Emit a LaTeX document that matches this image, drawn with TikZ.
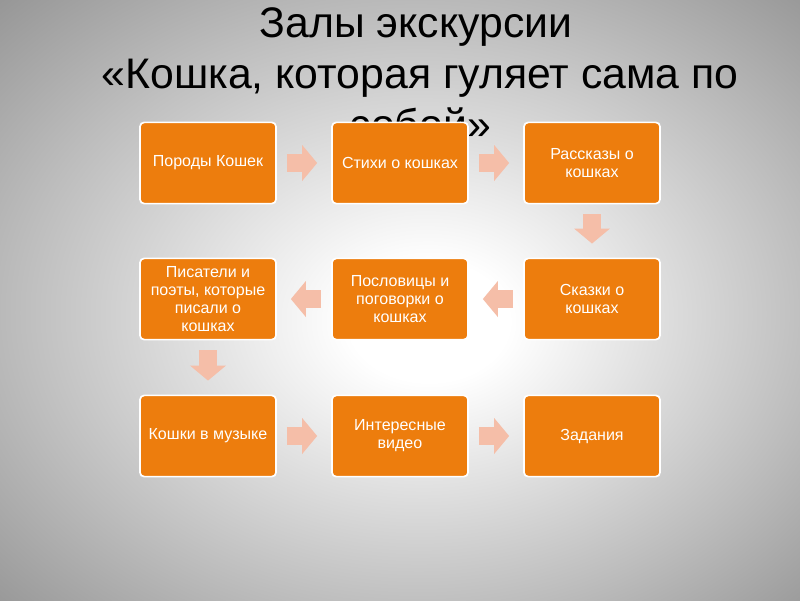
\documentclass[tikz,border=0pt]{standalone}
\usepackage{fontspec}
\setmainfont{Liberation Sans}
\usetikzlibrary{arrows.meta, calc}

\definecolor{hallorange}{RGB}{237,125,13}
\definecolor{routepeach}{RGB}{245,190,168}
\pgfdeclareradialshading{slidebg}{\pgfpoint{2bp}{-2bp}}{color(0bp)=(white); color(5bp)=(white); color(25bp)=(gray!52); color(37bp)=(gray!84); color(50bp)=(gray!84)}

\tikzset{
  hall/.style={draw=white, line width=1.2pt, rounded corners=3pt, fill=hallorange, text=white,
    minimum width=3.4cm, minimum height=2.03cm, inner sep=2pt, align=center,
    font=\fontsize{11.4}{12.8}\selectfont},
  route/.style={routepeach, line width=0.45cm, shorten <=0.25cm, shorten >=0.35cm,
    -{Triangle[length=0.375cm, width=0.9cm, line width=0pt]}},
  heading/.style={anchor=base, inner sep=0pt, font=\fontsize{30.4}{36}\selectfont}
}

\begin{document}
\begin{tikzpicture}[x=0.025cm, y=-0.025cm]
% slide background
\shade[shading=slidebg] (0,0) rectangle (800,600);
\useasboundingbox (0,0) rectangle (800,600);

% title, the last line sits behind the boxes
\node[heading] (title) at (416,37) {Залы экскурсии};
\node[heading] (subtitle) at (420,88) {«Кошка, которая гуляет сама по};
\node[heading] (subtitleend) at (420,139) {собой»};

% halls
\node[hall] (breeds) at (208,163) {Породы Кошек};
\node[hall] (poems) at (400,163) {Стихи о кошках};
\node[hall] (stories) at (592,163) {Рассказы о\\кошках};
\node[hall] (tales) at (592,299) {Сказки о\\кошках};
\node[hall] (proverbs) at (400,299) {Пословицы и\\поговорки о\\кошках};
\node[hall] (writers) at (208,299) {Писатели и\\поэты, которые\\писали о\\кошках};
\node[hall] (music) at (208,436) {Кошки в музыке};
\node[hall] (video) at (400,436) {Интересные\\видео};
\node[hall] (tasks) at (592,436) {Задания};

% route through the halls
\foreach \a/\b in {breeds/poems, poems/stories, stories/tales, tales/proverbs,
                   proverbs/writers, writers/music, music/video, video/tasks}
  \draw[route] (\a) -- (\b);
\end{tikzpicture}
\end{document}
